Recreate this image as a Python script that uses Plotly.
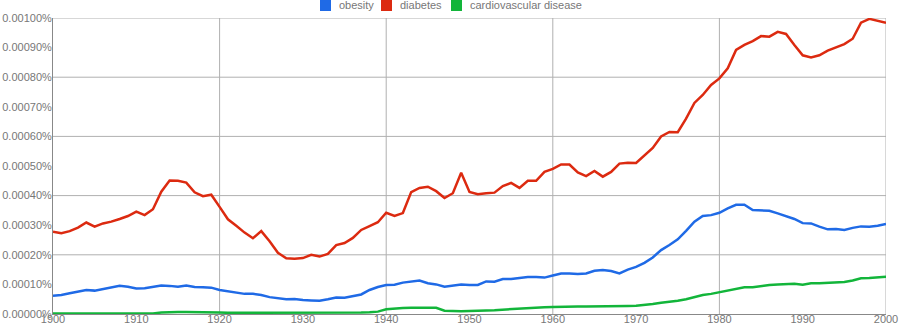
import plotly.graph_objects as go

# Yearly frequencies (percent of all words), 1900-2000
years = list(range(1900, 2001))

obesity = [
    0.000062, 0.000064, 0.000070, 0.000076, 0.000081, 0.000079, 0.000084, 0.000091, 0.000095, 0.000092,
    0.000086, 0.000087, 0.000091, 0.000096, 0.000095, 0.000092, 0.000096, 0.000091, 0.000090, 0.000089,
    0.000081, 0.000077, 0.000072, 0.000068, 0.000068, 0.000064, 0.000057, 0.000054, 0.000050, 0.000051,
    0.000047, 0.000046, 0.000045, 0.000050, 0.000056, 0.000055, 0.000061, 0.000066, 0.000081, 0.000091,
    0.000098, 0.000099, 0.000106, 0.000110, 0.000113, 0.000104, 0.000100, 0.000092, 0.000095, 0.000100,
    0.000098, 0.000098, 0.000110, 0.000109, 0.000118, 0.000118, 0.000122, 0.000125, 0.000125, 0.000123,
    0.000130, 0.000137, 0.000137, 0.000135, 0.000137, 0.000146, 0.000149, 0.000145, 0.000137, 0.000150,
    0.000159, 0.000173, 0.000191, 0.000216, 0.000233, 0.000252, 0.000281, 0.000312, 0.000331, 0.000334,
    0.000342, 0.000357, 0.000369, 0.000369, 0.000351, 0.000349, 0.000349, 0.000340, 0.000331, 0.000321,
    0.000307, 0.000306, 0.000295, 0.000286, 0.000287, 0.000284, 0.000291, 0.000296, 0.000295, 0.000298,
    0.000304,
]

diabetes = [
    0.000278, 0.000273, 0.000280, 0.000292, 0.000309, 0.000295, 0.000306, 0.000312, 0.000321, 0.000331,
    0.000346, 0.000334, 0.000354, 0.000413, 0.000451, 0.000450, 0.000444, 0.000411, 0.000398, 0.000403,
    0.000362, 0.000320, 0.000298, 0.000275, 0.000256, 0.000280, 0.000246, 0.000207, 0.000188, 0.000187,
    0.000189, 0.000200, 0.000194, 0.000203, 0.000233, 0.000240, 0.000257, 0.000284, 0.000297, 0.000310,
    0.000342, 0.000331, 0.000341, 0.000412, 0.000426, 0.000430, 0.000415, 0.000392, 0.000408, 0.000477,
    0.000412, 0.000405, 0.000408, 0.000410, 0.000432, 0.000443, 0.000426, 0.000450, 0.000450, 0.000480,
    0.000490, 0.000505, 0.000505, 0.000478, 0.000466, 0.000483, 0.000464, 0.000480, 0.000508, 0.000511,
    0.000510, 0.000537, 0.000561, 0.000600, 0.000615, 0.000614, 0.000660, 0.000713, 0.000740, 0.000774,
    0.000796, 0.000830, 0.000892, 0.000909, 0.000922, 0.000939, 0.000937, 0.000953, 0.000946, 0.000909,
    0.000874, 0.000867, 0.000874, 0.000890, 0.000900, 0.000912, 0.000930, 0.000984, 0.000997, 0.000991,
    0.000984,
]

cardiovascular = [
    0.000002, 0.000002, 0.000002, 0.000002, 0.000002, 0.000002, 0.000002, 0.000002, 0.000002, 0.000002,
    0.000002, 0.000002, 0.000002, 0.000005, 0.000007, 0.000007, 0.000007, 0.000007, 0.000007, 0.000007,
    0.000005, 0.000004, 0.000004, 0.000004, 0.000004, 0.000004, 0.000003, 0.000003, 0.000003, 0.000003,
    0.000003, 0.000003, 0.000003, 0.000003, 0.000003, 0.000003, 0.000004, 0.000005, 0.000006, 0.000008,
    0.000016, 0.000019, 0.000020, 0.000021, 0.000021, 0.000021, 0.000021, 0.000011, 0.000009, 0.000009,
    0.000010, 0.000010, 0.000012, 0.000013, 0.000015, 0.000017, 0.000019, 0.000021, 0.000023, 0.000023,
    0.000024, 0.000025, 0.000025, 0.000025, 0.000025, 0.000025, 0.000025, 0.000026, 0.000027, 0.000027,
    0.000028, 0.000030, 0.000034, 0.000038, 0.000041, 0.000045, 0.000050, 0.000058, 0.000064, 0.000068,
    0.000073, 0.000078, 0.000083, 0.000090, 0.000090, 0.000095, 0.000098, 0.000100, 0.000102, 0.000102,
    0.000099, 0.000104, 0.000104, 0.000106, 0.000107, 0.000108, 0.000113, 0.000121, 0.000122, 0.000124,
    0.000126,
]

series_names = ["obesity", "diabetes", "cardiovascular disease"]
series_colors = ["#1f6ae6", "#dc2a10", "#12b53a"]

x_ticks = list(range(1900, 2001, 10))
y_ticks = [i * 0.0001 for i in range(11)]
x_grid = [1920, 1940, 1960, 1980, 2000]
y_grid = [0.0002, 0.0004, 0.0006, 0.0008, 0.0010]

FONT = "Arial, 'Liberation Sans', sans-serif"
TEXT_GREY = "#777777"
GRID_GREY = "#b0b0b0"
AXIS_GREY = "#888888"

W, H = 900, 330
M_L, M_R, M_T, M_B = 53, 14, 18, 16
PW, PH = W - M_L - M_R, H - M_T - M_B

fig = go.Figure()
for name, vals, col in zip(series_names, [obesity, diabetes, cardiovascular], series_colors):
    fig.add_trace(go.Scatter(
        x=years, y=vals, mode="lines", name=name,
        line=dict(color=col, width=2.5), showlegend=False,
        hovertemplate="%{x}: %{y:.6f}%<extra>" + name + "</extra>",
    ))

shapes = []
for yv in y_grid:
    shapes.append(dict(type="line", xref="paper", yref="y", x0=0, x1=1, y0=yv, y1=yv,
                       line=dict(color=GRID_GREY, width=1), layer="below"))
for xv in x_grid:
    shapes.append(dict(type="line", xref="x", yref="paper", x0=xv, x1=xv, y0=0, y1=1,
                       line=dict(color=GRID_GREY, width=1), layer="below"))


def px_x(p):
    return (p - M_L) / PW


def px_y(p):
    return (H - M_B - p) / PH


# Legend: coloured squares with labels along the top
legend_sq_left = [320, 381, 451]
legend_txt_left = [337, 398, 468]
annotations = []
for name, col, sx, tx in zip(series_names, series_colors, legend_sq_left, legend_txt_left):
    shapes.append(dict(type="rect", xref="paper", yref="paper",
                       x0=px_x(sx), x1=px_x(sx + 11), y0=px_y(11), y1=px_y(0),
                       fillcolor=col, line=dict(width=0)))
    annotations.append(dict(text=name, xref="paper", yref="paper", x=px_x(tx), y=px_y(5.5),
                            xanchor="left", yanchor="middle", showarrow=False,
                            font=dict(family=FONT, size=11, color=TEXT_GREY)))

fig.update_layout(
    width=W, height=H,
    margin=dict(l=M_L, r=M_R, t=M_T, b=M_B, pad=0, autoexpand=False),
    paper_bgcolor="white", plot_bgcolor="white",
    font=dict(family=FONT, size=11, color=TEXT_GREY),
    shapes=shapes, annotations=annotations,
    showlegend=False,
    xaxis=dict(range=[1900, 2000], tickvals=x_ticks, ticktext=[str(v) for v in x_ticks],
               showgrid=False, zeroline=False, showline=True, linecolor=AXIS_GREY, linewidth=1,
               ticks="", automargin=False, ticklabelstandoff=-5,
               tickfont=dict(family=FONT, size=11, color=TEXT_GREY)),
    yaxis=dict(range=[0, 0.001], tickvals=y_ticks, ticktext=[f"{v:.5f}%" for v in y_ticks],
               showgrid=False, zeroline=False, showline=True, linecolor=AXIS_GREY, linewidth=1,
               ticks="", automargin=False, ticklabelstandoff=-2,
               tickfont=dict(family=FONT, size=11, color=TEXT_GREY)),
)

fig.write_html("out.html")
